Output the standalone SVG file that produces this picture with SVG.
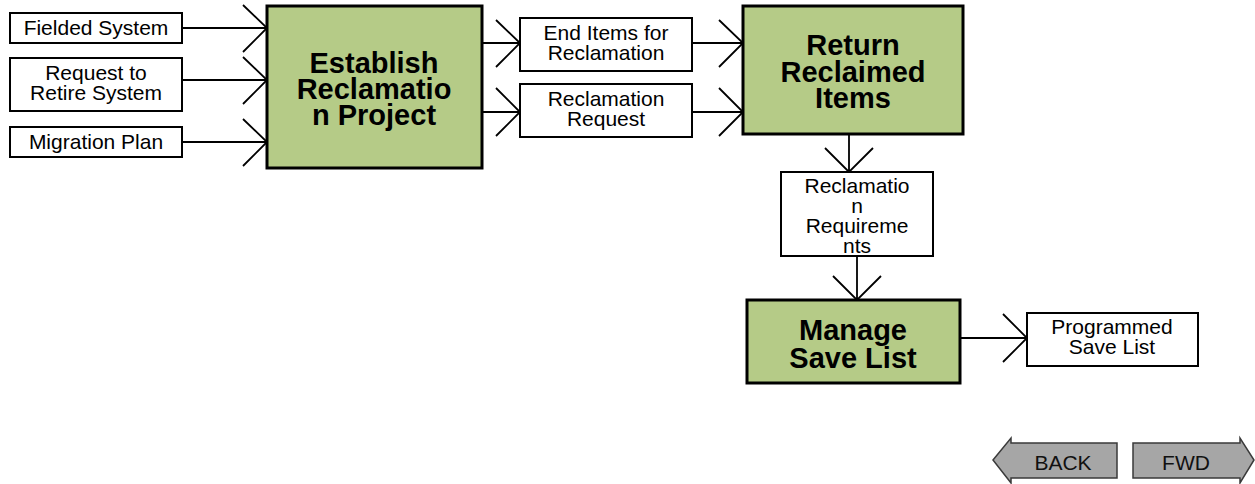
<svg xmlns="http://www.w3.org/2000/svg" width="1255" height="484" viewBox="0 0 1255 484">
<style>
.act{fill:#B5CB87;stroke:#000;stroke-width:3}
.dat{fill:#fff;stroke:#000;stroke-width:2}
.t{font-family:"Liberation Sans",Arial,sans-serif;font-size:21px;text-anchor:middle;fill:#000}
.b{font-family:"Liberation Sans",Arial,sans-serif;font-size:29px;font-weight:bold;text-anchor:middle;fill:#000}
.c{fill:none;stroke:#000;stroke-width:1.8}
.btn{fill:#A6A6A6;stroke:#3a3a3a;stroke-width:1.5}
.bt{font-family:"Liberation Sans",Arial,sans-serif;font-size:21px;text-anchor:middle;fill:#111}
</style>
<rect width="1255" height="484" fill="#fff"/>
<g id="connectors">
<path class="c" d="M182,28H267M243,5L267,28L243,52"/>
<path class="c" d="M182,80H267M243,57L267,80L243,104"/>
<path class="c" d="M182,142H267M243,119L267,142L243,166"/>
<path class="c" d="M482,43H520M496,20L520,43L496,67"/>
<path class="c" d="M482,112H520M496,88L520,112L496,136"/>
<path class="c" d="M692,43H743M719,20L743,43L719,67"/>
<path class="c" d="M692,112H743M719,88L743,112L719,136"/>
<path class="c" d="M849,135V172M825,148L849,172L873,148"/>
<path class="c" d="M857,256V300M833,276L857,300L881,276"/>
<path class="c" d="M960,338H1027M1003,314L1027,338L1003,362"/>
</g>
<g id="fielded-system">
<rect class="dat" x="10" y="13" width="172" height="30"/>
<text class="t" x="96" y="35">Fielded System</text>
</g>
<g id="request-to-retire">
<rect class="dat" x="10" y="58" width="172" height="53"/>
<text class="t" x="96" y="80">Request to</text>
<text class="t" x="96" y="100">Retire System</text>
</g>
<g id="migration-plan">
<rect class="dat" x="10" y="127" width="172" height="30"/>
<text class="t" x="96" y="149">Migration Plan</text>
</g>
<g id="establish">
<rect class="act" x="267" y="6" width="215" height="162"/>
<text class="b" x="374" y="73">Establish</text>
<text class="b" x="374" y="99">Reclamatio</text>
<text class="b" x="374" y="125">n Project</text>
</g>
<g id="end-items">
<rect class="dat" x="520" y="18" width="172" height="53"/>
<text class="t" x="606" y="40">End Items for</text>
<text class="t" x="606" y="60">Reclamation</text>
</g>
<g id="reclamation-request">
<rect class="dat" x="520" y="84" width="172" height="53"/>
<text class="t" x="606" y="106">Reclamation</text>
<text class="t" x="606" y="126">Request</text>
</g>
<g id="return">
<rect class="act" x="743" y="6" width="220" height="128"/>
<text class="b" x="853" y="55">Return</text>
<text class="b" x="853" y="82">Reclaimed</text>
<text class="b" x="853" y="108">Items</text>
</g>
<g id="reclamation-requirements">
<rect class="dat" x="781" y="172" width="152" height="84"/>
<text class="t" x="857" y="193">Reclamatio</text>
<text class="t" x="857" y="213">n</text>
<text class="t" x="857" y="233">Requireme</text>
<text class="t" x="857" y="253">nts</text>
</g>
<g id="manage">
<rect class="act" x="747" y="300" width="213" height="83"/>
<text class="b" x="853" y="340">Manage</text>
<text class="b" x="853" y="368">Save List</text>
</g>
<g id="programmed">
<rect class="dat" x="1027" y="313" width="171" height="53"/>
<text class="t" x="1112" y="334">Programmed</text>
<text class="t" x="1112" y="354">Save List</text>
</g>
<g id="back">
<polygon class="btn" points="993,460 1011,438 1011,443 1117,443 1117,478 1011,478 1011,483"/>
<text class="bt" x="1063" y="470">BACK</text>
</g>
<g id="fwd">
<polygon class="btn" points="1133,443 1240,443 1240,438 1254,460 1240,483 1240,478 1133,478"/>
<text class="bt" x="1186" y="470">FWD</text>
</g>
</svg>
